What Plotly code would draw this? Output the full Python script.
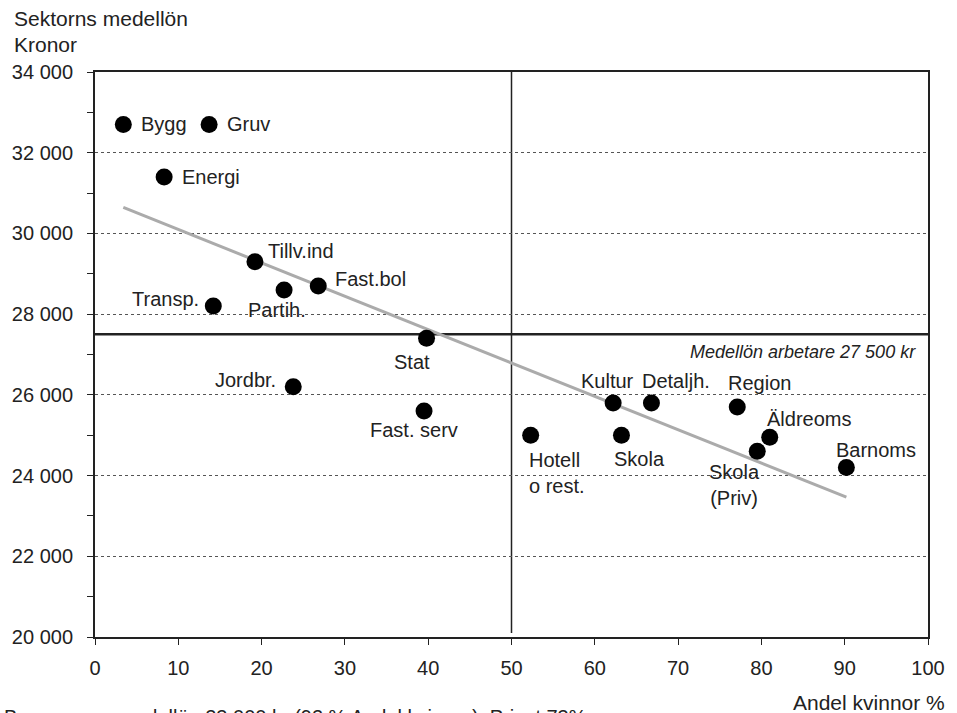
import numpy as np
import plotly.graph_objects as go

# ---- data ----
sectors = ["Bygg", "Gruv", "Energi", "Tillv.ind", "Fast.bol", "Partih.", "Transp.",
           "Stat", "Jordbr.", "Fast. serv", "Hotell<br>o rest.", "Kultur", "Skola",
           "Detaljh.", "Region", "Äldreoms", "Skola<br>(Priv)", "Barnoms"]
andel_kvinnor = [3.4, 13.7, 8.3, 19.2, 26.8, 22.7, 14.2,
                 39.8, 23.8, 39.5, 52.3, 62.2, 63.2,
                 66.8, 77.1, 81.0, 79.5, 90.2]
medellon = [32700, 32700, 31400, 29300, 28700, 28600, 28200,
            27400, 26200, 25600, 25000, 25800, 25000,
            25800, 25700, 24950, 24600, 24200]
arbetare_lon = 27500
y_ticks = [20000, 22000, 24000, 26000, 28000, 30000, 32000, 34000]
y_ticktext = ["20 000", "22 000", "24 000", "26 000", "28 000", "30 000", "32 000", "34 000"]
x_ticks = [0, 10, 20, 30, 40, 50, 60, 70, 80, 90, 100]

# ---- label placement (pixel offsets, anchor, align) ----
label_style = {
    "Bygg": (16, 0, "left", "left"),
    "Gruv": (16, 0, "left", "left"),
    "Energi": (16, 0, "left", "left"),
    "Tillv.ind": (11, 11, "left", "left"),
    "Fast.bol": (15, 7, "left", "left"),
    "Partih.": (-7, -20, "center", "center"),
    "Transp.": (-12, 7, "right", "right"),
    "Stat": (-15, -24, "center", "center"),
    "Jordbr.": (-15, 7, "right", "right"),
    "Fast. serv": (-10, -19, "center", "center"),
    "Hotell<br>o rest.": (-4, -38, "left", "left"),
    "Kultur": (-6, 22, "center", "center"),
    "Skola": (18, -24, "center", "center"),
    "Detaljh.": (25, 22, "center", "center"),
    "Region": (22, 24, "center", "center"),
    "Äldreoms": (39, 18, "center", "center"),
    "Skola<br>(Priv)": (-23, -34, "center", "center"),
    "Barnoms": (30, 18, "center", "center"),
}

FONT = "Liberation Sans, Arial, sans-serif"

fig = go.Figure()

# regression line
coef = np.polyfit(andel_kvinnor, medellon, 1)
xs = [min(andel_kvinnor), max(andel_kvinnor)]
fig.add_trace(go.Scatter(x=xs, y=[coef[0] * v + coef[1] for v in xs], mode="lines",
                         line=dict(color="#ababab", width=3), hoverinfo="skip",
                         showlegend=False))

fig.add_trace(go.Scatter(x=andel_kvinnor, y=medellon, mode="markers",
                         marker=dict(color="black", size=17), text=sectors,
                         showlegend=False))

for name, xv, yv in zip(sectors, andel_kvinnor, medellon):
    dx, dy, anchor, align = label_style[name]
    fig.add_annotation(x=xv, y=yv, text=name, showarrow=False, xshift=dx, yshift=dy,
                       xanchor=anchor, yanchor="middle", align=align,
                       font=dict(family=FONT, size=20, color="#222"))

# reference lines
fig.add_shape(type="line", xref="paper", x0=0, x1=1, yref="y", y0=arbetare_lon,
              y1=arbetare_lon, line=dict(color="#222", width=2.5), layer="below")
fig.add_shape(type="line", xref="x", x0=50, x1=50, yref="y", y0=20100, y1=34000,
              line=dict(color="#222", width=1.5), layer="below")

fig.add_annotation(xref="paper", x=1, y=arbetare_lon, text="<i>Medellön arbetare 27 500 kr</i>",
                   showarrow=False, xanchor="right", yanchor="middle", xshift=-10, yshift=-18,
                   font=dict(family=FONT, size=18, color="#222"))

# titles
fig.add_annotation(xref="paper", yref="paper", x=0, y=1, text="Sektorns medellön",
                   showarrow=False, xanchor="left", yanchor="middle", xshift=-83, yshift=54,
                   font=dict(family=FONT, size=21, color="#222"))
fig.add_annotation(xref="paper", yref="paper", x=0, y=1, text="Kronor",
                   showarrow=False, xanchor="left", yanchor="middle", xshift=-83, yshift=28,
                   font=dict(family=FONT, size=21, color="#222"))
fig.add_annotation(xref="paper", yref="paper", x=1, y=0, text="Andel kvinnor %",
                   showarrow=False, xanchor="right", yanchor="middle", xshift=19, yshift=-65,
                   font=dict(family=FONT, size=21, color="#222"))
fig.add_annotation(xref="paper", yref="paper", x=0, y=0,
                   text="Barnomsorg medellön 23 000 kr (92 % Andel kvinnor). Privat 73%",
                   showarrow=False, xanchor="left", yanchor="top", xshift=-93, yshift=-67,
                   font=dict(family=FONT, size=20, color="#222"))

fig.update_xaxes(range=[0, 100], tickvals=x_ticks, ticks="outside", ticklen=6,
                 tickcolor="#222", showline=True, mirror=True, linecolor="#222",
                 linewidth=2, showgrid=False, zeroline=False, ticklabelstandoff=6,
                 tickfont=dict(family=FONT, size=20, color="#222"))
fig.update_yaxes(range=[20000, 34000], tickvals=y_ticks, ticktext=y_ticktext,
                 ticks="outside", ticklen=6, tickcolor="#222", showline=True, mirror=True,
                 linecolor="#222", linewidth=2, showgrid=True, gridcolor="#555",
                 griddash="dot", gridwidth=1, zeroline=False, ticklabelstandoff=10,
                 minor=dict(dtick=1000, ticks="outside", ticklen=6, tickcolor="#222",
                            showgrid=False),
                 tickfont=dict(family=FONT, size=20, color="#222"))

fig.update_layout(width=957, height=713, autosize=False,
                  margin=dict(l=93, r=24, t=72, b=76),
                  paper_bgcolor="white", plot_bgcolor="white",
                  font=dict(family=FONT, color="#222"))

fig.write_html("out.html", config={"displayModeBar": False},
               post_script="document.body.style.margin='0';document.body.style.overflow='hidden';")
